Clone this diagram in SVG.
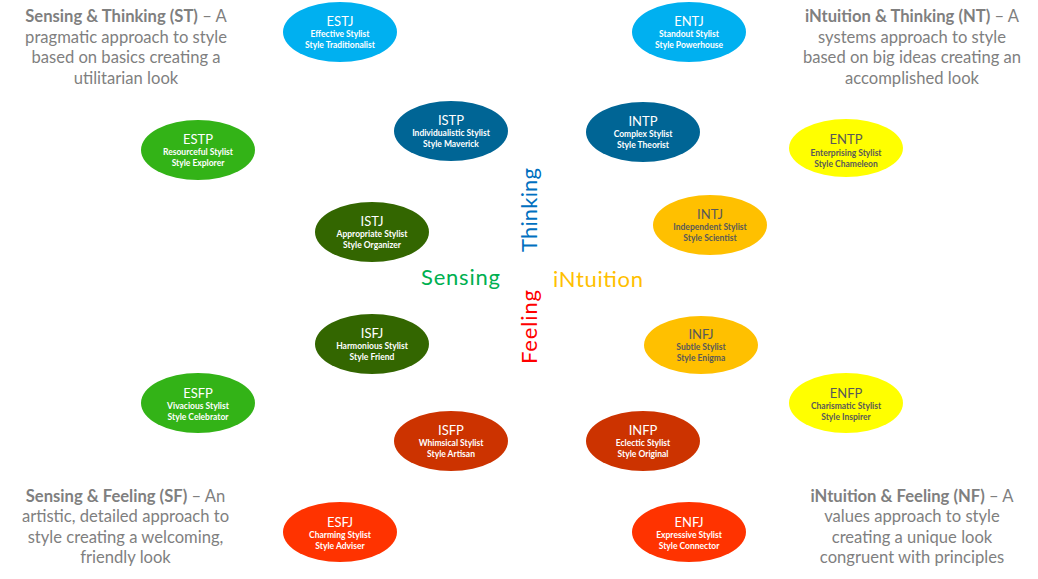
<svg xmlns="http://www.w3.org/2000/svg" width="1038" height="579" viewBox="0 0 1038 579">
<style>
  text { font-family: Lato, "Liberation Sans", sans-serif; }
  .lbl { font-size: 13px; text-anchor: middle; fill: #ffffff; }
  .sub { font-size: 8.5px; font-weight: bold; text-anchor: middle; fill: #ffffff; }
  .dark .lbl, .dark .sub { fill: #595959; }
  .desc { font-size: 16.6px; fill: #7f7f7f; text-anchor: middle; }
  .desc .b { font-weight: bold; }
  .axis { font-size: 22px; }
  .c-lb { fill: #00b0f0; }
  .c-teal { fill: #006595; }
  .c-green { fill: #33b317; }
  .c-dg { fill: #336600; }
  .c-yel { fill: #ffff00; }
  .c-gold { fill: #ffc000; }
  .c-rust { fill: #cc3300; }
  .c-red { fill: #ff3300; }
</style>
<rect width="1038" height="579" fill="#ffffff"/>

<!-- descriptions -->
<g id="desc-st">
  <text class="desc" x="126" y="22"><tspan class="b">Sensing &amp; Thinking (ST)</tspan> – A</text>
  <text class="desc" x="126" y="42.5">pragmatic approach to style</text>
  <text class="desc" x="126" y="63">based on basics creating a</text>
  <text class="desc" x="126" y="83.5">utilitarian look</text>
</g>
<g id="desc-nt">
  <text class="desc" x="912" y="22"><tspan class="b">iNtuition &amp; Thinking (NT)</tspan> – A</text>
  <text class="desc" x="912" y="42.5">systems approach to style</text>
  <text class="desc" x="912" y="63">based on big ideas creating an</text>
  <text class="desc" x="912" y="83.5">accomplished look</text>
</g>
<g id="desc-sf">
  <text class="desc" x="125.5" y="502"><tspan class="b">Sensing &amp; Feeling (SF)</tspan> – An</text>
  <text class="desc" x="125.5" y="522">artistic, detailed approach to</text>
  <text class="desc" x="125.5" y="543">style creating a welcoming,</text>
  <text class="desc" x="125.5" y="563">friendly look</text>
</g>
<g id="desc-nf">
  <text class="desc" x="912" y="502"><tspan class="b">iNtuition &amp; Feeling (NF)</tspan> – A</text>
  <text class="desc" x="912" y="522">values approach to style</text>
  <text class="desc" x="912" y="543">creating a unique look</text>
  <text class="desc" x="912" y="563">congruent with principles</text>
</g>

<!-- axis labels -->
<g id="axes">
  <text class="axis" x="421" y="285" fill="#00b050" textLength="79">Sensing</text>
  <text class="axis" x="553" y="287" fill="#ffc000" textLength="90">iNtuition</text>
  <text class="axis" transform="translate(537,252) rotate(-90)" fill="#0070c0" textLength="84">Thinking</text>
  <text class="axis" transform="translate(537,364) rotate(-90)" fill="#ff0000" textLength="74">Feeling</text>
</g>

<!-- nodes -->
<g id="ESTJ"><ellipse class="c-lb" cx="340" cy="32" rx="57" ry="30"/>
  <text class="lbl" x="340" y="26">ESTJ</text><text class="sub" x="340" y="37">Effective Stylist</text><text class="sub" x="340" y="48">Style Traditionalist</text></g>
<g id="ENTJ"><ellipse class="c-lb" cx="689" cy="32" rx="57" ry="30"/>
  <text class="lbl" x="689" y="26">ENTJ</text><text class="sub" x="689" y="37">Standout Stylist</text><text class="sub" x="689" y="48">Style Powerhouse</text></g>
<g id="ISTP"><ellipse class="c-teal" cx="451" cy="131" rx="57" ry="30"/>
  <text class="lbl" x="451" y="125">ISTP</text><text class="sub" x="451" y="136">Individualistic Stylist</text><text class="sub" x="451" y="147">Style Maverick</text></g>
<g id="INTP"><ellipse class="c-teal" cx="643" cy="132" rx="57" ry="30"/>
  <text class="lbl" x="643" y="126">INTP</text><text class="sub" x="643" y="137">Complex Stylist</text><text class="sub" x="643" y="148">Style Theorist</text></g>
<g id="ESTP"><ellipse class="c-green" cx="198" cy="150" rx="57" ry="30"/>
  <text class="lbl" x="198" y="143.5">ESTP</text><text class="sub" x="198" y="155">Resourceful Stylist</text><text class="sub" x="198" y="166">Style Explorer</text></g>
<g id="ENTP" class="dark"><ellipse class="c-yel" cx="846" cy="148" rx="57" ry="29"/>
  <text class="lbl" x="846" y="143.5">ENTP</text><text class="sub" x="846" y="155.5">Enterprising Stylist</text><text class="sub" x="846" y="166.5">Style Chameleon</text></g>
<g id="ISTJ"><ellipse class="c-dg" cx="372" cy="232" rx="57" ry="30"/>
  <text class="lbl" x="372" y="226">ISTJ</text><text class="sub" x="372" y="237">Appropriate Stylist</text><text class="sub" x="372" y="248">Style Organizer</text></g>
<g id="INTJ" class="dark"><ellipse class="c-gold" cx="710" cy="225" rx="57" ry="30"/>
  <text class="lbl" x="710" y="218.5">INTJ</text><text class="sub" x="710" y="229.5">Independent Stylist</text><text class="sub" x="710" y="240.5">Style Scientist</text></g>
<g id="ISFJ"><ellipse class="c-dg" cx="372" cy="344" rx="57" ry="30"/>
  <text class="lbl" x="372" y="338">ISFJ</text><text class="sub" x="372" y="349">Harmonious Stylist</text><text class="sub" x="372" y="360">Style Friend</text></g>
<g id="INFJ" class="dark"><ellipse class="c-gold" cx="701" cy="345" rx="57" ry="29"/>
  <text class="lbl" x="701" y="339">INFJ</text><text class="sub" x="701" y="350">Subtle Stylist</text><text class="sub" x="701" y="361">Style Enigma</text></g>
<g id="ESFP"><ellipse class="c-green" cx="198" cy="403" rx="57" ry="30"/>
  <text class="lbl" x="198" y="397.5">ESFP</text><text class="sub" x="198" y="408.5">Vivacious Stylist</text><text class="sub" x="198" y="419.5">Style Celebrator</text></g>
<g id="ENFP" class="dark"><ellipse class="c-yel" cx="846" cy="403" rx="57" ry="30"/>
  <text class="lbl" x="846" y="397.5">ENFP</text><text class="sub" x="846" y="408.5">Charismatic Stylist</text><text class="sub" x="846" y="419.5">Style Inspirer</text></g>
<g id="ISFP"><ellipse class="c-rust" cx="451" cy="441" rx="57" ry="30"/>
  <text class="lbl" x="451" y="435">ISFP</text><text class="sub" x="451" y="446">Whimsical Stylist</text><text class="sub" x="451" y="457">Style Artisan</text></g>
<g id="INFP"><ellipse class="c-rust" cx="643" cy="441" rx="57" ry="30"/>
  <text class="lbl" x="643" y="435">INFP</text><text class="sub" x="643" y="446">Eclectic Stylist</text><text class="sub" x="643" y="457">Style Original</text></g>
<g id="ESFJ"><ellipse class="c-red" cx="340" cy="532" rx="57" ry="30"/>
  <text class="lbl" x="340" y="526.5">ESFJ</text><text class="sub" x="340" y="537.5">Charming Stylist</text><text class="sub" x="340" y="548.5">Style Adviser</text></g>
<g id="ENFJ"><ellipse class="c-red" cx="689" cy="532" rx="57" ry="30"/>
  <text class="lbl" x="689" y="526.5">ENFJ</text><text class="sub" x="689" y="537.5">Expressive Stylist</text><text class="sub" x="689" y="548.5">Style Connector</text></g>
</svg>
